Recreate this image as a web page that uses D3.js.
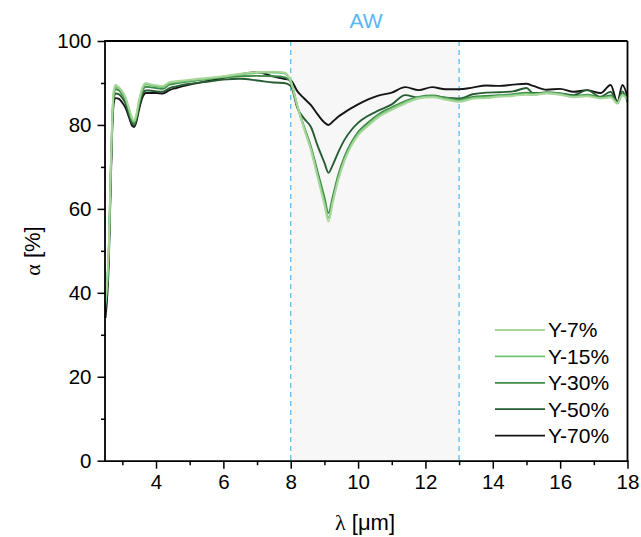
<!DOCTYPE html>
<html><head><meta charset="utf-8">
<script src="https://cdn.jsdelivr.net/npm/d3@7"></script>
<style>
body{margin:0;background:#fff;}
svg{display:block;}
text{font-family:"Liberation Sans",Arial,sans-serif;}
</style></head>
<body><svg id="c" width="641" height="537"></svg>
<script>
const lambda = [2.5,2.6,2.65,2.7,2.75,2.8,2.9,3.0,3.1,3.2,3.3,3.35,3.4,3.5,3.6,3.7,3.8,4.0,4.2,4.4,4.6,5.0,5.5,6.0,6.5,7.0,7.5,7.8,8.0,8.2,8.4,8.6,8.8,9.0,9.12,9.25,9.4,9.6,9.8,10.0,10.3,10.6,11.0,11.4,11.8,12.2,12.6,13.0,13.4,13.8,14.2,14.6,15.0,15.2,15.6,16.0,16.4,16.8,17.2,17.5,17.7,17.85,18.0];
const y7  = [38,52,68,82,88.5,89.5,89,88,86.5,84,81.5,81,82,86,89,90,89.8,89.5,89.3,90.2,90.4,90.8,91.2,91.6,92.2,92.6,92.7,92.5,90.5,84.5,79,74,67.5,61,57,61.5,66.5,71.5,75,77.5,79.8,81.8,83.6,85.1,86.3,86.6,86,85.5,86.2,86.4,86.7,86.9,87.2,87.1,87.5,87.2,86.6,86.8,86.3,86.5,85.2,87,86];
const y15 = [37.5,51.5,67.5,81.5,88,89.1,88.7,87.7,86.2,83.7,81.2,80.8,81.7,85.7,88.7,89.7,89.5,89.2,89,89.9,90.2,90.6,91,91.5,92,92.4,92.5,92.3,90.4,84.4,79.2,74.3,67.9,61.6,57.9,62,67,71.9,75.3,77.8,80.1,82.1,83.9,85.4,86.5,86.8,86.2,85.7,86.4,86.6,86.9,87.1,87.4,87.3,87.6,87.3,86.7,87,86.4,86.7,85.1,87.2,86.1];
const y30 = [37,51,67,81,87.5,88.5,88.2,87.2,85.8,83.2,80.8,80.3,81.3,85.3,88.2,89.1,89,88.8,88.6,89.6,89.9,90.4,90.9,91.3,91.6,91.7,91.6,91.4,90.2,84.3,79.5,74.8,68.8,62.8,59,63,67.8,72.5,75.8,78.3,80.6,82.5,84.2,85.7,86.7,87,86.5,86,86.7,86.9,87.1,87.3,87.7,87.5,87.8,87.5,86.9,87.2,86.6,87,85.3,87.5,86.2];
const y50 = [36,50,66,80,86.5,87.5,87.3,86.4,85,82.4,80.3,79.9,80.8,84.5,87.3,88.2,88.2,88,87.9,88.8,89.2,89.8,90.3,90.8,91,90.6,90.1,90,89.3,84,81.5,79.5,75,71,68.6,70.5,73.3,76.5,78.8,80.5,82.2,83.4,84.9,87.1,86.5,86.9,86.5,86.3,87.3,87.7,87.8,88,88.8,87.6,87.6,87.5,87.1,88.3,86.7,87.9,85.2,88,85.5];
const y70 = [34,48,64,79,85.5,86.4,86.2,85.3,84,81.8,79.7,79.5,80.3,83.8,86.6,87.6,87.6,87.6,87.5,88.3,88.8,89.6,90.4,91.2,92.1,92.6,91.5,91,90.6,88,86.3,84.7,82.5,80.6,80,80.8,81.9,83,84,84.9,86.1,87,87.7,89,88.3,89,88.5,88.5,88.9,89.4,89.3,89.6,89.8,89.3,88.4,88.6,87.9,88.3,87.6,89.5,85.5,89.5,86.7];
const seriesNames = ["Y-7%","Y-15%","Y-30%","Y-50%","Y-70%"];
const seriesValues = [y7,y15,y30,y50,y70];
const seriesColors = ["#a9d79b","#72c475","#3f8a48","#275d33","#151515"];
const xTicks = [3,4,5,6,7,8,9,10,11,12,13,14,15,16,17,18];
const xTickLabels = [4,6,8,10,12,14,16,18];
const yTicks = [0,10,20,30,40,50,60,70,80,90,100];
const yTickLabels = [0,20,40,60,80,100];
const awRange = [8,13];

const svg = d3.select("#c");
const L=105.5, R=627.5, T=41, B=460.7;
const x = d3.scaleLinear().domain([2.5,18]).range([L,R]);
const y = d3.scaleLinear().domain([0,100]).range([B,T]);

// AW shaded band
svg.append("rect").attr("x",x(awRange[0])).attr("y",T).attr("width",x(awRange[1])-x(awRange[0])).attr("height",B-T).attr("fill","#f7f7f8");
awRange.forEach(v=>{
  svg.append("line").attr("x1",x(v)).attr("x2",x(v)).attr("y1",T).attr("y2",B)
    .attr("stroke","#5cbdf3").attr("stroke-width",1.3).attr("stroke-dasharray","5,4");
});
svg.append("text").attr("x",366).attr("y",28).attr("text-anchor","middle")
  .attr("fill","#55b8f4").attr("font-size",21).text("AW");

// curves
const line = d3.line().x((d,i)=>x(lambda[i])).y(d=>y(d)).curve(d3.curveMonotoneX);
const order=[4,3,2,1,0];
order.forEach(k=>{
  svg.append("path").datum(seriesValues[k]).attr("d",line).attr("fill","none")
    .attr("stroke",seriesColors[k]).attr("stroke-width",1.9).attr("stroke-linejoin","round");
});

// frame
svg.append("line").attr("x1",L).attr("x2",R).attr("y1",T).attr("y2",T).attr("stroke","#000").attr("stroke-width",1.8);
svg.append("line").attr("x1",R).attr("x2",R).attr("y1",T).attr("y2",B).attr("stroke","#000").attr("stroke-width",1.8);

// axes
const xAxis = d3.axisBottom(x).tickValues(xTicks).tickSizeOuter(0)
  .tickFormat(d=> xTickLabels.includes(d)? d : "");
const gx = svg.append("g").attr("transform",`translate(0,${B})`).call(xAxis);
gx.selectAll(".tick line").attr("y2",d=> xTickLabels.includes(d)?8:4.5).attr("stroke-width",1.5);
gx.selectAll(".tick text").attr("font-size",20.5).attr("font-family","Liberation Sans, Arial, sans-serif").attr("y",14).attr("dy","0.71em").attr("fill","#000");
gx.select(".domain").attr("stroke-width",1.8).attr("d",`M${L-1},0.5H${R+1}`);

const yAxis = d3.axisLeft(y).tickValues(yTicks).tickSizeOuter(0)
  .tickFormat(d=> yTickLabels.includes(d)? d : "");
const gy = svg.append("g").attr("transform",`translate(${L},0)`).call(yAxis);
gy.selectAll(".tick line").attr("x2",d=> yTickLabels.includes(d)?-8:-4.5).attr("stroke-width",1.5);
gy.selectAll(".tick text").attr("font-size",20.5).attr("font-family","Liberation Sans, Arial, sans-serif").attr("x",-14).attr("fill","#000");
gy.select(".domain").attr("stroke-width",1.8).attr("d",`M-0.5,${B+1}V${T-1}`);

// axis titles
const yl = svg.append("text").attr("transform","translate(40,251) rotate(-90)").attr("text-anchor","middle").attr("font-size",22).attr("fill","#000");
yl.append("tspan").attr("font-family","Liberation Serif, Times New Roman, serif").text("α");
yl.append("tspan").text(" [%]");
const xl = svg.append("text").attr("x",365).attr("y",530).attr("text-anchor","middle").attr("font-size",22).attr("fill","#000");
xl.append("tspan").attr("font-family","Liberation Serif, Times New Roman, serif").text("λ");
xl.append("tspan").text(" [μm]");

// legend
const lg = svg.append("g");
seriesNames.forEach((n,i)=>{
  const yy = 330 + i*26.4;
  lg.append("line").attr("x1",495).attr("x2",545).attr("y1",yy).attr("y2",yy).attr("stroke",seriesColors[i]).attr("stroke-width",1.8);
  lg.append("text").attr("x",548).attr("y",yy).attr("dy","0.35em").attr("font-size",21).attr("fill","#000").text(n);
});
</script></body></html>
